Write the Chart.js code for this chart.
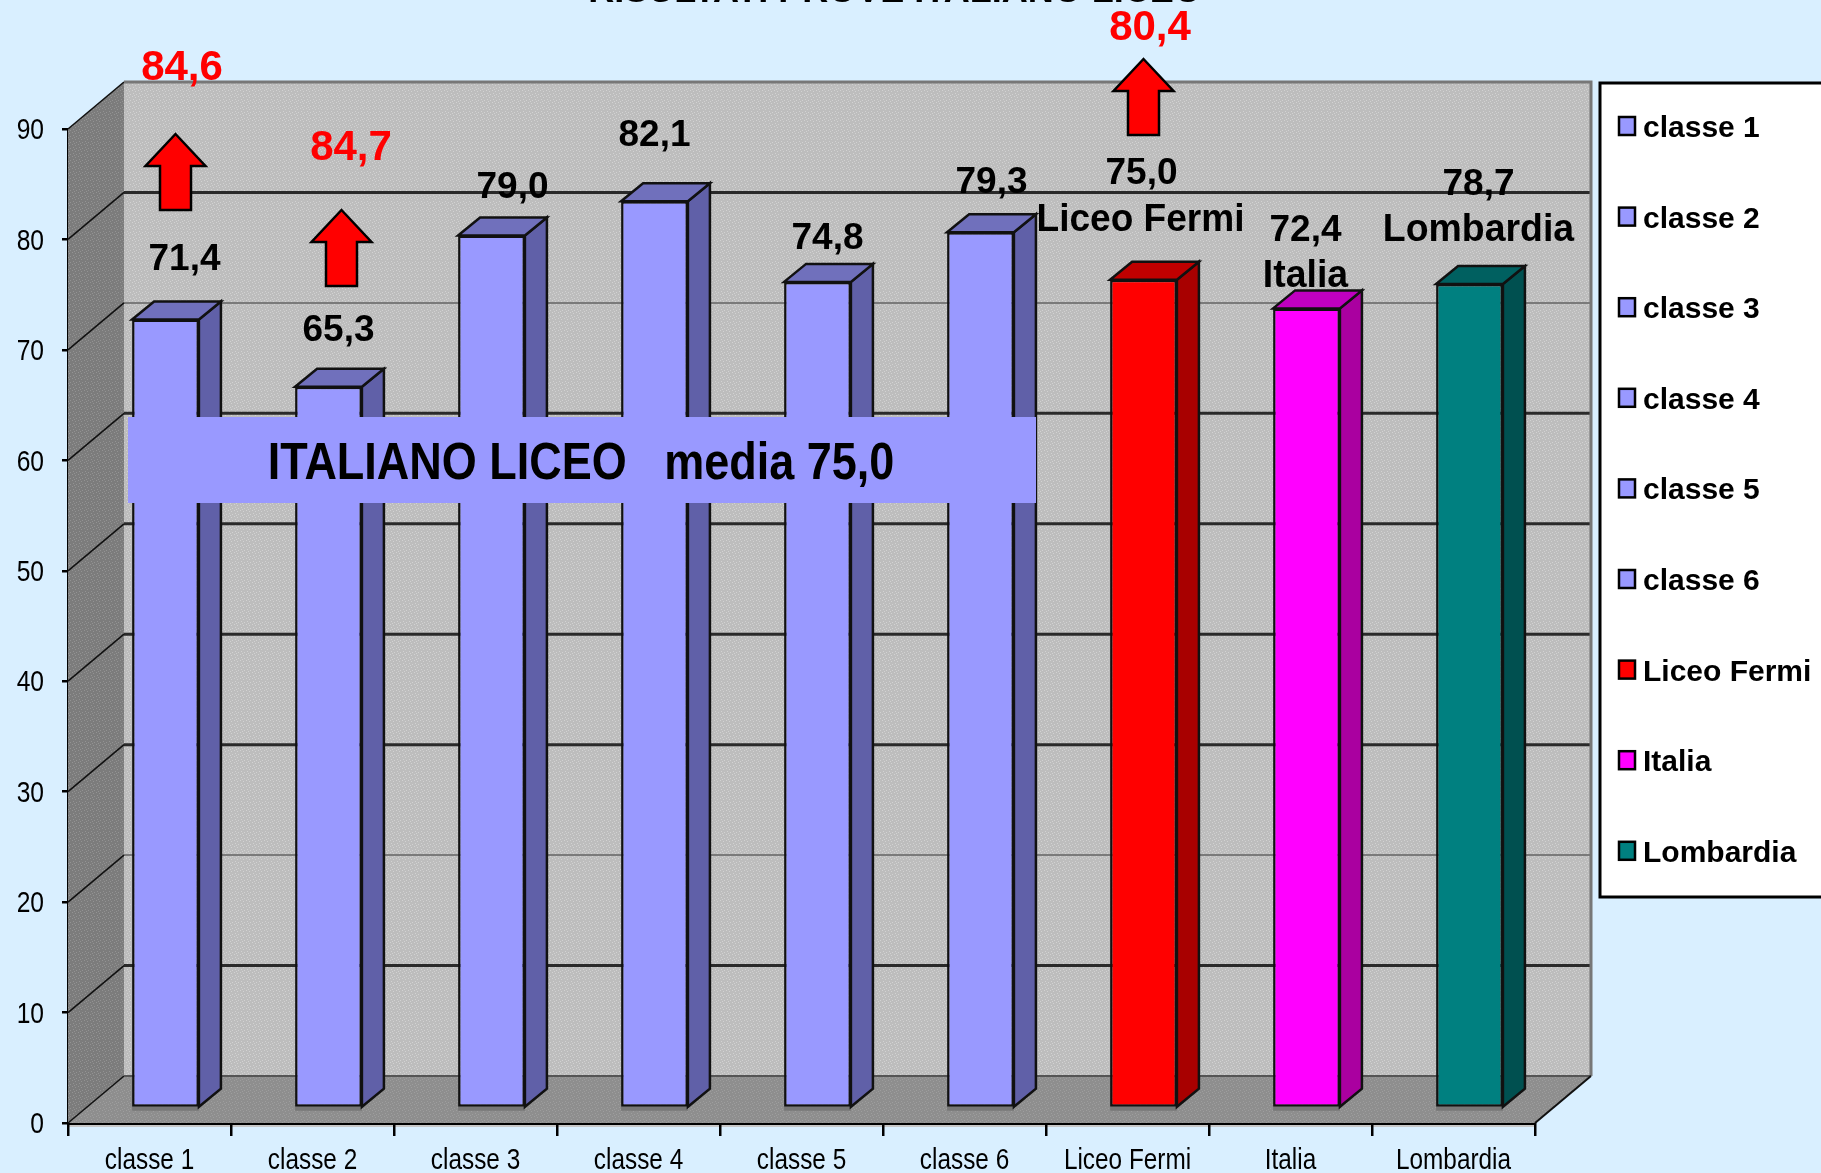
<!DOCTYPE html>
<html><head><meta charset="utf-8">
<style>html,body{margin:0;padding:0;background:#D9EFFF;overflow:hidden}canvas{display:block}</style>
<script src="https://cdn.jsdelivr.net/npm/chart.js@4"></script>
</head><body><canvas id="c" width="1821" height="1173"></canvas>
<script>
const categories = ['classe 1','classe 2','classe 3','classe 4','classe 5','classe 6','Liceo Fermi','Italia','Lombardia'];
const barValues = [71.4,65.3,79.0,82.1,74.8,79.3,75.0,72.4,74.6];
const valueLabels = ['71,4','65,3','79,0','82,1','74,8','79,3','75,0','72,4','78,7'];
const yTicks = [0,10,20,30,40,50,60,70,80,90];
const arrowLabels = ['84,6','84,7','80,4'];
const faceColors = ['#9999FF','#9999FF','#9999FF','#9999FF','#9999FF','#9999FF','#FF0000','#FF00FF','#008080'];
const sideColors = ['#6060A8','#6060A8','#6060A8','#6060A8','#6060A8','#6060A8','#A80000','#AA00A0','#005050'];
const topColors  = ['#7070BC','#7070BC','#7070BC','#7070BC','#7070BC','#7070BC','#C00000','#C000C0','#006060'];
const thinGrid = [20,70];

const SANS='"Liberation Sans",Arial,sans-serif';
const DX=56, DY=47, BX=16, BY=15, SX=22, SY=18;

function dither(base,dot){
  const p=document.createElement('canvas');p.width=p.height=6;const g=p.getContext('2d');
  g.fillStyle=base;g.fillRect(0,0,6,6);g.fillStyle=dot;
  [[0,0],[3,1],[1,3],[4,4],[2,5]].forEach(a=>g.fillRect(a[0],a[1],1,1));
  return p;
}
function poly(ctx,pts,fill,stroke,lw){
  ctx.beginPath();pts.forEach((p,i)=>i?ctx.lineTo(p[0],p[1]):ctx.moveTo(p[0],p[1]));ctx.closePath();
  if(fill){ctx.fillStyle=fill;ctx.fill();}
  if(stroke){ctx.strokeStyle=stroke;ctx.lineWidth=lw||1;ctx.stroke();}
}
function text(ctx,s,x,y,font,color,align,sx){
  ctx.save();
  ctx.font=font;ctx.fillStyle=color;ctx.textAlign=align||'center';ctx.textBaseline='alphabetic';
  ctx.translate(x,y);ctx.scale(sx||1,1);ctx.fillText(s,0,0);
  ctx.restore();
}
function arrow(ctx,x,tip){
  const w=30,h=32,sh=15.5,len=76;
  poly(ctx,[[x,tip],[x+w,tip+h],[x+sh,tip+h],[x+sh,tip+len],[x-sh,tip+len],[x-sh,tip+h],[x-w,tip+h]],'#FF0000','#000',2.5);
}
// condense tick labels horizontally around their anchor, as in the reference's narrow lettering
function narrowLabels(scale,ctx,sx,dy){
  if(scale._narrowed)return;scale._narrowed=true;
  const orig=scale.drawLabels;
  scale.drawLabels=function(area){
    const f=ctx.fillText;
    ctx.fillText=function(t,x,y){
      ctx.save();ctx.translate(x,y+dy);ctx.scale(sx,1);f.call(ctx,t,0,0);ctx.restore();
    };
    orig.call(scale,area);
    delete ctx.fillText;
  };
}

const walls={id:'walls',beforeDraw(chart){
  const {ctx,chartArea:a,scales:{x,y}}=chart;
  narrowLabels(x,ctx,0.84,0);
  narrowLabels(y,ctx,0.82,2);
  ctx.fillStyle='#C8C8C8';ctx.fillRect(a.left,a.bottom+1,a.right-a.left,3);
},beforeDatasetsDraw(chart){
  const {ctx,chartArea:a,scales:{y}}=chart;
  const L=a.left,R=a.right,T=y.getPixelForValue(90),B=y.getPixelForValue(0);
  ctx.save();
  const gray=ctx.createPattern(dither('#BDBDBD','#D2D2D2'),'repeat');
  const side=ctx.createPattern(dither('#7C7C7C','#939393'),'repeat');
  const floor=ctx.createPattern(dither('#8E8E8E','#9E9E9E'),'repeat');
  poly(ctx,[[L+DX,T-DY],[R+DX,T-DY],[R+DX,B-DY],[L+DX,B-DY]],gray);
  poly(ctx,[[L,T],[L+DX,T-DY],[L+DX,B-DY],[L,B]],side);
  poly(ctx,[[L,B],[L+DX,B-DY],[R+DX,B-DY],[R,B]],floor);
  yTicks.forEach(v=>{
    const py=y.getPixelForValue(v);
    if(v>0&&v<90){
      const thin=thinGrid.includes(v);
      ctx.strokeStyle=thin?'#7A7A7A':'#2A2A2A';ctx.lineWidth=thin?2:3;
      ctx.beginPath();ctx.moveTo(L+DX,py-DY);ctx.lineTo(R+DX,py-DY);ctx.stroke();
    }
    ctx.strokeStyle='#111';ctx.lineWidth=1.6;
    ctx.beginPath();ctx.moveTo(L,py);ctx.lineTo(L+DX,py-DY);ctx.stroke();
  });
  ctx.strokeStyle='#777';ctx.lineWidth=3;
  ctx.beginPath();ctx.moveTo(L+DX,T-DY);ctx.lineTo(R+DX,T-DY);ctx.lineTo(R+DX,B-DY);ctx.stroke();
  ctx.strokeStyle='#555';ctx.lineWidth=2;
  ctx.beginPath();ctx.moveTo(L+DX,B-DY);ctx.lineTo(R+DX,B-DY);ctx.stroke();
  ctx.strokeStyle='#111';ctx.lineWidth=2;
  ctx.beginPath();ctx.moveTo(R,B);ctx.lineTo(R+DX,B-DY);ctx.stroke();
  ctx.restore();
  // bars and their 3D faces sit in a plane shifted into the depth of the box
  ctx.save();ctx.translate(BX,-BY);
  const m=chart.getDatasetMeta(0);
  m.data.forEach((b,i)=>{
    const l=b.x-b.width/2,r=b.x+b.width/2,t=b.y,bt=b.base;
    poly(ctx,[[l,bt],[r,bt],[r,bt+4],[l,bt+4]],'#777');
    poly(ctx,[[r,t],[r+SX,t-SY],[r+SX,bt-SY],[r,bt]],sideColors[i],'#111',2.5);
    poly(ctx,[[l,t],[l+SX,t-SY],[r+SX,t-SY],[r,t]],topColors[i],'#111',2.5);
  });
},afterDatasetsDraw(chart){
  const {ctx}=chart;
  ctx.restore();
  ctx.save();
  const bars=chart.getDatasetMeta(0).data;
  // value labels, offset from each bar centre
  const offs=[[19,270],[10,341],[21,198],[0,146],[10,249],[11,193],[-2,184],[-1,241],[9,195]];
  offs.forEach((o,i)=>text(ctx,valueLabels[i],bars[i].x+BX+o[0],o[1],'bold 37px '+SANS,'#000'));
  text(ctx,categories[6],bars[6].x+BX-3,231,'bold 39px '+SANS,'#000','center',0.95);
  text(ctx,categories[7],bars[7].x+BX-1,287,'bold 39px '+SANS,'#000','center',0.96);
  text(ctx,categories[8],bars[8].x+BX+9,241,'bold 39px '+SANS,'#000','center',0.96);
  // reference arrows
  arrow(ctx,bars[0].x+BX+10,134);
  arrow(ctx,bars[1].x+BX+13,210);
  arrow(ctx,bars[6].x+BX,59);
  text(ctx,arrowLabels[0],182,80,'bold 42px '+SANS,'#FF0000');
  text(ctx,arrowLabels[1],351,160,'bold 42px '+SANS,'#FF0000');
  text(ctx,arrowLabels[2],1150,40,'bold 42px '+SANS,'#FF0000');
  // banner
  ctx.fillStyle='#9999FF';ctx.fillRect(128,417,908,86);
  text(ctx,'ITALIANO LICEO   media 75,0',581,479,'bold 52px '+SANS,'#000','center',0.865);
  // clipped title at top edge
  text(ctx,'RISULTATI PROVE ITALIANO LICEO',895,2,'bold 36px '+SANS,'#000');
  // legend
  ctx.fillStyle='#fff';ctx.fillRect(1600,83,240,814);
  ctx.strokeStyle='#000';ctx.lineWidth=3;ctx.strokeRect(1600,83,240,814);
  categories.forEach((c,i)=>{
    const cy=126+i*90.6;
    ctx.fillStyle=faceColors[i];ctx.fillRect(1619,cy-9,16,18);
    ctx.strokeStyle='#000';ctx.lineWidth=2.5;ctx.strokeRect(1619,cy-9,16,18);
    text(ctx,c,1643,cy+11,'bold 30px '+SANS,'#000','left');
  });
  ctx.restore();
}};

new Chart(document.getElementById('c'),{
  type:'bar',
  data:{labels:categories,datasets:[{data:barValues,backgroundColor:faceColors,borderColor:'#111',borderWidth:2.5,borderSkipped:false,barPercentage:0.41,categoryPercentage:1}]},
  plugins:[walls],
  options:{
    responsive:false,animation:false,devicePixelRatio:1,
    layout:{padding:{top:129,right:286,left:0,bottom:0}},
    plugins:{legend:{display:false},tooltip:{enabled:false},title:{display:false}},
    scales:{
      x:{afterFit(s){s.height=50;},
         grid:{display:true,drawOnChartArea:false,drawTicks:true,tickLength:13,color:'#000',lineWidth:2.5},
         border:{display:true,color:'#000',width:3},
         ticks:{color:'#000',font:{family:'"Liberation Sans",Arial',size:29},padding:8,maxRotation:0,autoSkip:false}},
      y:{min:0,max:90,afterFit(s){s.width=68;},
         grid:{display:true,drawOnChartArea:false,drawTicks:true,tickLength:6,color:'#000',lineWidth:2.5},
         border:{display:true,color:'#000',width:3},
         ticks:{stepSize:10,color:'#000',font:{family:'"Liberation Sans",Arial',size:30},padding:18}}
    }
  }
});
</script></body></html>
